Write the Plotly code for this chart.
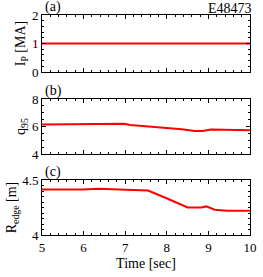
import plotly.graph_objects as go

# Data
time_a = [5.0, 10.0]
ip_vals = [1.0, 1.0]

time_b = [5.0, 5.96, 6.5, 6.97, 7.12, 7.5, 7.97, 8.36, 8.67, 8.86, 9.06, 9.44, 10.0]
q95_vals = [6.15, 6.2, 6.18, 6.2, 6.12, 6.02, 5.93, 5.8, 5.68, 5.68, 5.78, 5.78, 5.73]

time_c = [5.0, 5.96, 6.35, 6.97, 7.55, 7.98, 8.25, 8.5, 8.83, 8.95, 9.15, 9.46, 10.0]
redge_vals = [4.413, 4.413, 4.42, 4.413, 4.404, 4.336, 4.29, 4.25, 4.25, 4.26, 4.23, 4.22, 4.22]

x_ticks = [5, 6, 7, 8, 9, 10]
panel_labels = ["(a)", "(b)", "(c)"]
shot_label = "E48473"

FONT = "Liberation Serif, Times New Roman, serif"
RED = "#ff0000"

fig = go.Figure()
fig.add_trace(go.Scatter(x=time_a, y=ip_vals, mode="lines", line=dict(color=RED, width=2),
                         xaxis="x", yaxis="y"))
fig.add_trace(go.Scatter(x=time_b, y=q95_vals, mode="lines", line=dict(color=RED, width=2),
                         xaxis="x2", yaxis="y2"))
fig.add_trace(go.Scatter(x=time_c, y=redge_vals, mode="lines", line=dict(color=RED, width=2),
                         xaxis="x3", yaxis="y3"))

common_ax = dict(showline=True, linecolor="black", linewidth=1, mirror="allticks",
                 ticks="inside", ticklen=4, tickwidth=1, tickcolor="black",
                 showgrid=False, zeroline=False,
                 tickfont=dict(family=FONT, size=13, color="black"))

doms = [[0.741, 1.0], [0.368, 0.618], [0.0, 0.25]]

def xax(show_labels, anchor):
    d = dict(common_ax)
    d.update(range=[5, 10], tickvals=x_ticks, showticklabels=show_labels, anchor=anchor,
             domain=[0, 1], ticklabeloverflow="allow",
             minor=dict(dtick=0.2, ticks="inside", ticklen=2, tickcolor="black", showgrid=False))
    return d

fig.update_layout(
    xaxis=xax(False, "y"),
    xaxis2=xax(False, "y2"),
    xaxis3=dict(xax(True, "y3"), title=dict(text="Time [sec]", font=dict(family=FONT, size=14, color="black"), standoff=4)),
    yaxis=dict(common_ax, domain=doms[0], range=[0, 2], tickvals=[0, 1, 2], anchor="x",
               minor=dict(dtick=0.2, ticks="inside", ticklen=2, tickcolor="black", showgrid=False),
               title=dict(text="I<sub>P</sub> [MA]", font=dict(family=FONT, size=14, color="black"), standoff=2)),
    yaxis2=dict(common_ax, domain=doms[1], range=[4, 8], tickvals=[4, 6, 8], anchor="x2",
                minor=dict(dtick=0.5, ticks="inside", ticklen=2, tickcolor="black", showgrid=False),
                title=dict(text="q<sub>95</sub>", font=dict(family=FONT, size=14, color="black"), standoff=2)),
    yaxis3=dict(common_ax, domain=doms[2], range=[4, 4.5], tickvals=[4, 4.5], ticktext=["4", "4.5"], anchor="x3",
                minor=dict(dtick=0.05, ticks="inside", ticklen=2, tickcolor="black", showgrid=False),
                title=dict(text="R<sub>edge</sub> [m]", font=dict(family=FONT, size=14, color="black"), standoff=2)),
    width=263, height=277,
    margin=dict(l=42, r=6, t=15, b=42),
    paper_bgcolor="white", plot_bgcolor="white",
    showlegend=False,
    font=dict(family=FONT, color="black"),
)

for lab, dom in zip(panel_labels, doms):
    fig.add_annotation(text=lab, x=0, y=dom[1], xref="paper", yref="paper",
                       xanchor="left", yanchor="bottom", showarrow=False, xshift=1, yshift=-2,
                       font=dict(family=FONT, size=14, color="black"))

fig.add_annotation(text=shot_label, x=1, y=1, xref="paper", yref="paper",
                   xanchor="right", yanchor="bottom", showarrow=False, xshift=4, yshift=-3,
                   font=dict(family=FONT, size=14, color="black"))

fig.write_html("out.html", config={"displayModeBar": False},
               post_script="document.body.style.margin='0';")
